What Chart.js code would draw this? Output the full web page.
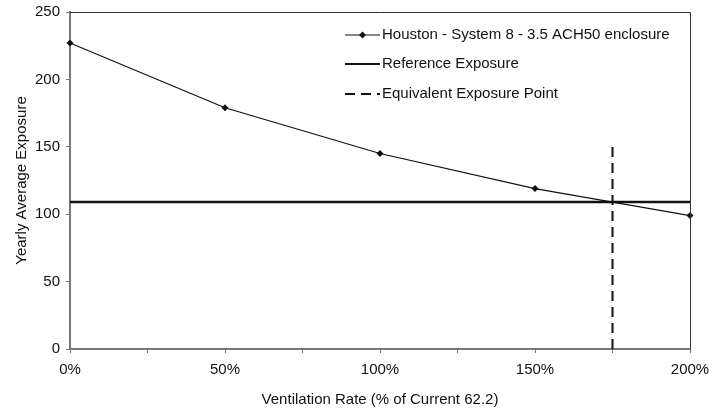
<!DOCTYPE html>
<html>
<head>
<meta charset="utf-8">
<script src="https://cdn.jsdelivr.net/npm/chart.js@4"></script>
<style>
  html, body { margin: 0; padding: 0; background: #ffffff; }
  #wrap { width: 709px; height: 409px; }
</style>
</head>
<body>
<div id="wrap"><canvas id="myChart" width="709" height="409"></canvas></div>
<script>
// valores
const ventilationRate = [0, 50, 100, 150, 200];
const houstonExposure = [227, 179, 145, 119, 99];
const referenceExposure = [109, 109];
const referenceRange = [0, 200];
const equivalentX = [175, 175];
const equivalentY = [0, 150];
const xTickLabels = ['0%', '50%', '100%', '150%', '200%'];

const fontFamily = "'Liberation Sans', Arial, sans-serif";

function toPoints(xs, ys) {
    return xs.map(function (x, i) { return { x: x, y: ys[i] }; });
}

/*** leyenda dibujada dentro del area ***/
const legendPlugin = {
    id: 'legendInside',
    afterDraw: function (chart) {
        let ctx = chart.ctx;
        let rows = [
            { text: chart.data.datasets[0].label, dash: [], width: 1.2, marker: true, y: 35 },
            { text: chart.data.datasets[1].label, dash: [], width: 2.2, marker: false, y: 64 },
            { text: chart.data.datasets[2].label, dash: [10, 6], width: 2, marker: false, y: 94 }
        ];
        ctx.save();
        ctx.font = '15px ' + fontFamily;
        ctx.fillStyle = '#111';
        ctx.textBaseline = 'middle';
        rows.forEach(function (r) {
            ctx.strokeStyle = '#111';
            ctx.lineWidth = r.width;
            ctx.setLineDash(r.dash);
            ctx.beginPath();
            ctx.moveTo(345, r.y);
            ctx.lineTo(380, r.y);
            ctx.stroke();
            ctx.setLineDash([]);
            if (r.marker) {
                ctx.beginPath();
                ctx.moveTo(362.5, r.y - 3.5);
                ctx.lineTo(366, r.y);
                ctx.lineTo(362.5, r.y + 3.5);
                ctx.lineTo(359, r.y);
                ctx.closePath();
                ctx.fill();
            }
            ctx.fillText(r.text, 382, r.y);
        });
        // borde superior y derecho del area
        let a = chart.chartArea;
        ctx.strokeStyle = '#333';
        ctx.lineWidth = 1;
        ctx.beginPath();
        ctx.moveTo(a.left, a.top + 0.5);
        ctx.lineTo(a.right + 0.5, a.top + 0.5);
        ctx.lineTo(a.right + 0.5, a.bottom);
        ctx.stroke();
        ctx.restore();
    }
};

let ctx = document.getElementById('myChart').getContext('2d');
let chart = new Chart(ctx, {
    type: 'scatter',
    data: {
        datasets: [
            {
                label: 'Houston - System 8 - 3.5 ACH50 enclosure',
                data: toPoints(ventilationRate, houstonExposure),
                showLine: true,
                clip: false,
                borderColor: '#111',
                backgroundColor: '#111',
                borderWidth: 1.2,
                pointStyle: 'rectRot',
                pointRadius: 3.5,
                pointBorderWidth: 0
            },
            {
                label: 'Reference Exposure',
                data: toPoints(referenceRange, referenceExposure),
                showLine: true,
                borderColor: '#111',
                borderWidth: 2.4,
                pointRadius: 0
            },
            {
                label: 'Equivalent Exposure Point',
                data: toPoints(equivalentX, equivalentY),
                showLine: true,
                borderColor: '#111',
                borderWidth: 2,
                borderDash: [10, 6],
                pointRadius: 0
            }
        ]
    },
    options: {
        responsive: false,
        animation: false,
        layout: { padding: { top: 12, right: 19, left: 0, bottom: 0 } },
        plugins: {
            legend: { display: false },
            tooltip: { enabled: false }
        },
        scales: {
            x: {
                type: 'linear',
                min: 0,
                max: 200,
                afterFit: function (scale) {
                    scale.height = 60;
                    scale.paddingLeft = 0;
                    scale.paddingRight = 0;
                },
                ticks: {
                    stepSize: 25,
                    autoSkip: false,
                    maxRotation: 0,
                    padding: 8,
                    color: '#111',
                    font: { family: fontFamily, size: 15 },
                    callback: function (value) {
                        let i = ventilationRate.indexOf(value);
                        return i >= 0 ? xTickLabels[i] : '';
                    }
                },
                grid: { drawOnChartArea: false, tickLength: 4, color: '#777' },
                border: { color: '#777', width: 2 },
                title: {
                    display: true,
                    text: 'Ventilation Rate (% of Current 62.2)',
                    color: '#111',
                    font: { family: fontFamily, size: 15 },
                    padding: { top: 2, bottom: 0 }
                }
            },
            y: {
                min: 0,
                max: 250,
                afterFit: function (scale) {
                    scale.width = 70;
                    scale.paddingTop = 0;
                    scale.paddingBottom = 0;
                },
                ticks: {
                    stepSize: 50,
                    padding: 6,
                    color: '#111',
                    font: { family: fontFamily, size: 15 }
                },
                grid: { drawOnChartArea: false, tickLength: 4, color: '#777' },
                border: { color: '#777', width: 2 },
                title: {
                    display: true,
                    text: 'Yearly Average Exposure',
                    color: '#111',
                    font: { family: fontFamily, size: 15 },
                    padding: { top: 13, bottom: 0 }
                }
            }
        }
    },
    plugins: [legendPlugin]
});
</script>
</body>
</html>
